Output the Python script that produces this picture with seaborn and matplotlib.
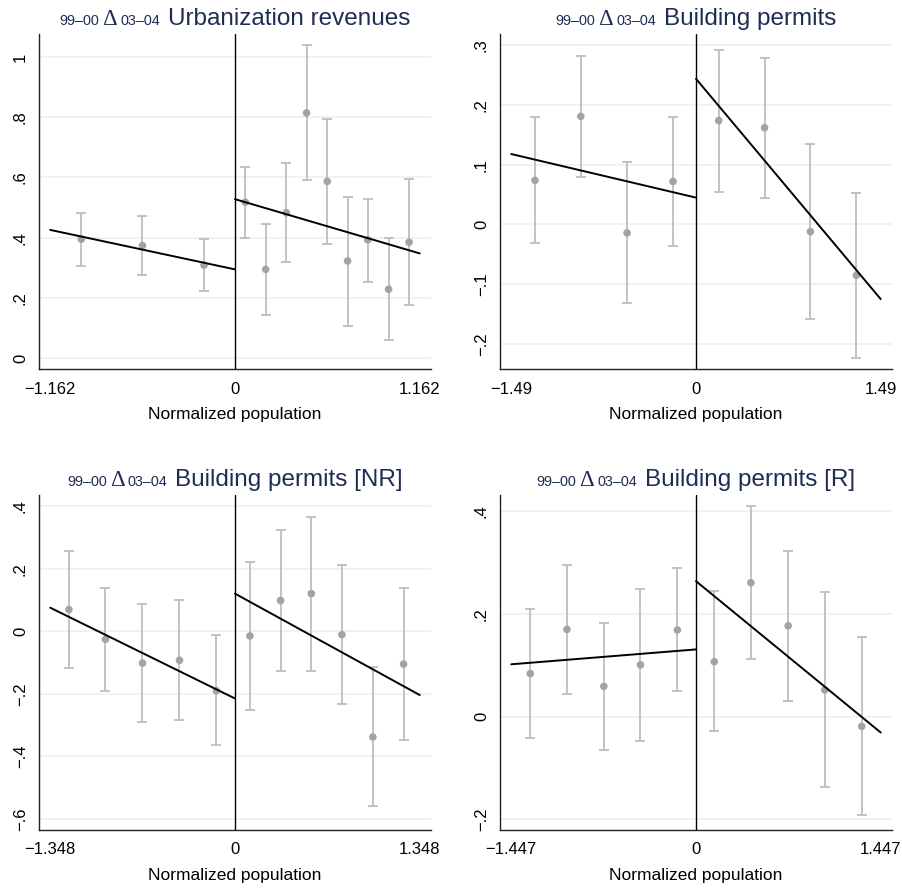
import matplotlib
matplotlib.use("Agg")
import matplotlib.pyplot as plt
import numpy as np
import pandas as pd
import seaborn as sns

# ---- Urbanization revenues ----
urb_bw = 1.162
urb_x = [-0.967, -0.582, -0.195, 0.065, 0.193, 0.323, 0.450, 0.580, 0.708, 0.835, 0.966, 1.095]
urb_y = [0.395, 0.374, 0.309, 0.518, 0.295, 0.483, 0.814, 0.587, 0.323, 0.393, 0.229, 0.385]
urb_lo = [0.307, 0.276, 0.222, 0.399, 0.145, 0.319, 0.591, 0.379, 0.108, 0.254, 0.060, 0.176]
urb_hi = [0.483, 0.472, 0.396, 0.635, 0.447, 0.647, 1.040, 0.795, 0.536, 0.529, 0.399, 0.594]
urb_fit_left = [0.426, 0.295]
urb_fit_right = [0.528, 0.348]
urb_yticks = [0, 0.2, 0.4, 0.6, 0.8, 1.0]
urb_ylabels = ["0", ".2", ".4", ".6", ".8", "1"]

# ---- Building permits ----
bp_bw = 1.49
bp_x = [-1.299, -0.929, -0.556, -0.185, 0.183, 0.553, 0.923, 1.294]
bp_y = [0.074, 0.181, -0.014, 0.072, 0.174, 0.162, -0.012, -0.085]
bp_lo = [-0.031, 0.080, -0.132, -0.036, 0.055, 0.045, -0.159, -0.224]
bp_hi = [0.180, 0.282, 0.104, 0.180, 0.293, 0.279, 0.134, 0.053]
bp_fit_left = [0.118, 0.045]
bp_fit_right = [0.244, -0.125]
bp_yticks = [-0.2, -0.1, 0, 0.1, 0.2, 0.3]
bp_ylabels = ["\u2212.2", "\u2212.1", "0", ".1", ".2", ".3"]

# ---- Building permits, non-residential ----
nr_bw = 1.348
nr_x = [-1.212, -0.945, -0.675, -0.405, -0.136, 0.109, 0.333, 0.557, 0.780, 1.006, 1.230]
nr_y = [0.069, -0.026, -0.102, -0.093, -0.190, -0.015, 0.098, 0.120, -0.011, -0.338, -0.105]
nr_lo = [-0.117, -0.192, -0.291, -0.284, -0.362, -0.252, -0.128, -0.126, -0.233, -0.559, -0.348]
nr_hi = [0.256, 0.139, 0.088, 0.100, -0.013, 0.222, 0.323, 0.366, 0.213, -0.113, 0.137]
nr_fit_left = [0.075, -0.215]
nr_fit_right = [0.120, -0.204]
nr_yticks = [-0.6, -0.4, -0.2, 0, 0.2, 0.4]
nr_ylabels = ["\u2212.6", "\u2212.4", "\u2212.2", "0", ".2", ".4"]

# ---- Building permits, residential ----
r_bw = 1.447
r_x = [-1.298, -1.011, -0.722, -0.435, -0.146, 0.143, 0.430, 0.722, 1.009, 1.298]
r_y = [0.084, 0.170, 0.059, 0.101, 0.169, 0.107, 0.261, 0.177, 0.052, -0.019]
r_lo = [-0.042, 0.045, -0.065, -0.048, 0.050, -0.028, 0.112, 0.031, -0.137, -0.192]
r_hi = [0.210, 0.296, 0.183, 0.249, 0.289, 0.244, 0.410, 0.323, 0.242, 0.155]
r_fit_left = [0.102, 0.131]
r_fit_right = [0.264, -0.031]
r_yticks = [-0.2, 0, 0.2, 0.4]
r_ylabels = ["\u2212.2", "0", ".2", ".4"]

titles = ["Urbanization revenues", "Building permits",
          "Building permits [NR]", "Building permits [R]"]
xlabel = "Normalized population"

sns.set_theme(style="white")
plt.rcParams["font.family"] = ["Liberation Sans", "DejaVu Sans"]
plt.rcParams["axes.unicode_minus"] = True

W, H = 903, 889
fig = plt.figure(figsize=(W / 100, H / 100), dpi=100)

GRID = "#EAF1F3"
BAR = "#BEBEBE"
DOT = "#A3A3A3"
NAVY = "#1F2D55"

panels = [
    dict(bw=urb_bw, x=urb_x, y=urb_y, lo=urb_lo, hi=urb_hi, fl=urb_fit_left, fr=urb_fit_right,
         yt=urb_yticks, yl=urb_ylabels, ylim=(-0.0355, 1.076), title=titles[0],
         rect=(39, 34, 431, 369)),
    dict(bw=bp_bw, x=bp_x, y=bp_y, lo=bp_lo, hi=bp_hi, fl=bp_fit_left, fr=bp_fit_right,
         yt=bp_yticks, yl=bp_ylabels, ylim=(-0.242, 0.319), title=titles[1],
         rect=(500, 34, 892, 369)),
    dict(bw=nr_bw, x=nr_x, y=nr_y, lo=nr_lo, hi=nr_hi, fl=nr_fit_left, fr=nr_fit_right,
         yt=nr_yticks, yl=nr_ylabels, ylim=(-0.635, 0.435), title=titles[2],
         rect=(39, 495, 431, 830)),
    dict(bw=r_bw, x=r_x, y=r_y, lo=r_lo, hi=r_hi, fl=r_fit_left, fr=r_fit_right,
         yt=r_yticks, yl=r_ylabels, ylim=(-0.221, 0.432), title=titles[3],
         rect=(500, 495, 892, 830)),
]


def fmt_tick(v):
    s = f"{abs(v):g}"
    return ("\u2212" + s) if v < 0 else s


def draw_title(ax, main):
    renderer = fig.canvas.get_renderer()
    parts = [("99\u201300", 10.4, "Liberation Sans", 3),
             ("\u0394", 16.5, "Liberation Serif", 3),
             ("03\u201304", 10.4, "Liberation Sans", 8),
             (main, 17.5, "Liberation Sans", 0)]
    items = []
    total = 0.0
    for s, size, fam, gap in parts:
        t = fig.text(0, 0, s, fontsize=size, family=fam, color=NAVY,
                     ha="left", va="baseline")
        w = t.get_window_extent(renderer).width
        items.append((t, w, gap))
        total += w + gap
    pos = ax.get_position()
    cx = (pos.x0 + pos.x1) / 2 * W
    base = pos.y1 * H + 9
    x = cx - total / 2
    for t, w, gap in items:
        t.set_position((x / W, base / H))
        x += w + gap


for p in panels:
    l, t, r, b = p["rect"]
    ax = fig.add_axes([l / W, 1 - b / H, (r - l) / W, (b - t) / H])
    bw = p["bw"]
    # x-limits put the outer ticks just inside the plot region
    xpad = bw * 0.061
    ax.set_xlim(-bw - xpad, bw + xpad)
    ax.set_ylim(*p["ylim"])

    df = pd.DataFrame({"x": p["x"], "y": p["y"], "lo": p["lo"], "hi": p["hi"]})
    ax.errorbar(df["x"], df["y"], yerr=[df["y"] - df["lo"], df["hi"] - df["y"]],
                fmt="none", ecolor=BAR, elinewidth=1.3, capsize=3.4, capthick=1.3, zorder=2)
    sns.scatterplot(data=df, x="x", y="y", ax=ax, color=DOT, s=30, edgecolor="none",
                    zorder=3, legend=False)

    fit = pd.DataFrame({"x": [-bw, 0.0, 0.0, bw],
                        "y": [p["fl"][0], p["fl"][1], p["fr"][0], p["fr"][1]],
                        "side": ["L", "L", "R", "R"]})
    for side, g in fit.groupby("side"):
        sns.lineplot(data=g, x="x", y="y", ax=ax, color="black", lw=1.4,
                     zorder=4, legend=False, estimator=None, sort=False)
    ax.axvline(0, color="black", lw=1.0, zorder=5)

    ax.set_xticks([-bw, 0, bw], [fmt_tick(-bw), "0", fmt_tick(bw)])
    ax.set_yticks(p["yt"], p["yl"])
    ax.yaxis.grid(True, color=GRID, lw=1.2)
    ax.xaxis.grid(False)
    ax.set_axisbelow(True)
    for s in ["top", "right"]:
        ax.spines[s].set_visible(False)
    for s in ["left", "bottom"]:
        ax.spines[s].set_color("#222222")
        ax.spines[s].set_linewidth(1.0)
    ax.tick_params(axis="both", length=6, width=1, color="#222222", direction="out",
                   labelsize=12, labelcolor="black")
    ax.tick_params(axis="x", pad=3)
    ax.tick_params(axis="y", pad=2)
    plt.setp(ax.get_yticklabels(), rotation=90, va="center", ha="right")
    ax.set_xlabel(xlabel, fontsize=12.5, labelpad=7.5, color="black")
    ax.set_ylabel("")
    draw_title(ax, p["title"])

fig.savefig("out.png", dpi=100, facecolor="white")
